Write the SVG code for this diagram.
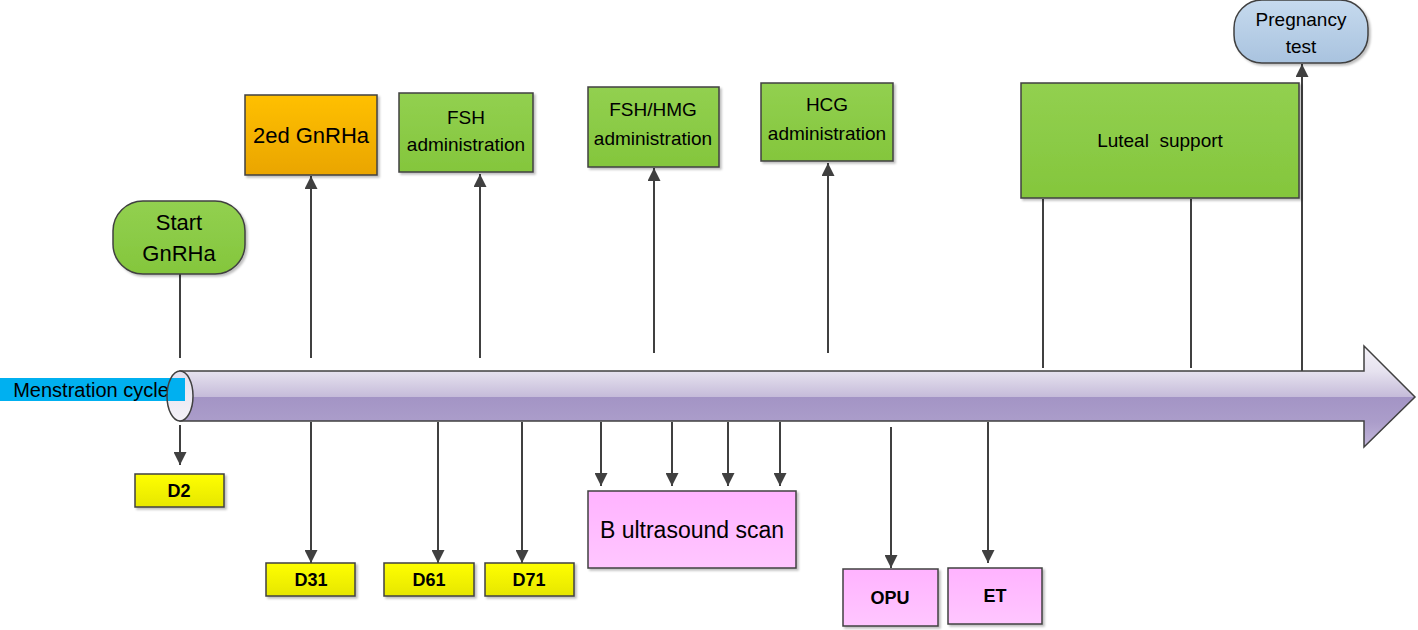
<svg xmlns="http://www.w3.org/2000/svg" width="1418" height="630" viewBox="0 0 1418 630">
<style>
text{font-family:"Liberation Sans",Arial,sans-serif;fill:#000;text-anchor:middle}
.box{stroke:#404040;stroke-width:1.5;filter:url(#sh)}
.green{fill:url(#gGreen)}
.yel{fill:url(#gYel)}
.pink{fill:url(#gPink)}
.lbl{font-weight:bold;font-size:18px}
.conn line{stroke:#404040;stroke-width:2}
.arr{marker-end:url(#ah)}
</style>
<defs>
<filter id="sh" x="-10%" y="-10%" width="130%" height="130%">
<feDropShadow dx="2" dy="2" stdDeviation="1" flood-color="#000" flood-opacity="0.25"/>
</filter>
<marker id="ah" viewBox="0 0 10 10" refX="10" refY="5" markerUnits="userSpaceOnUse" markerWidth="14" markerHeight="13" orient="auto">
<path d="M0,0 L10,5 L0,10 Z" fill="#404040"/>
</marker>
<linearGradient id="gGreen" x1="0" y1="0" x2="0" y2="1">
<stop offset="0" stop-color="#92d050"/><stop offset="1" stop-color="#84c63c"/>
</linearGradient>
<linearGradient id="gOrange" x1="0" y1="0" x2="0" y2="1">
<stop offset="0" stop-color="#ffc000"/><stop offset="1" stop-color="#eaa500"/>
</linearGradient>
<linearGradient id="gYel" x1="0" y1="0" x2="0" y2="1">
<stop offset="0" stop-color="#ffff00"/><stop offset="1" stop-color="#e6e600"/>
</linearGradient>
<linearGradient id="gPink" x1="0" y1="0" x2="0" y2="1">
<stop offset="0" stop-color="#ffb3ff"/><stop offset="1" stop-color="#ffc6ff"/>
</linearGradient>
<linearGradient id="gBlue" x1="0" y1="0" x2="0" y2="1">
<stop offset="0" stop-color="#c6daee"/><stop offset="1" stop-color="#a9c3df"/>
</linearGradient>
<linearGradient id="gBody" gradientUnits="userSpaceOnUse" x1="0" y1="346" x2="0" y2="447">
<stop offset="0" stop-color="#f4f2f8"/>
<stop offset="0.25" stop-color="#e6e2ef"/>
<stop offset="0.5" stop-color="#c6bcda"/>
<stop offset="0.5" stop-color="#a394c5"/>
<stop offset="0.75" stop-color="#ab9dca"/>
<stop offset="1" stop-color="#c2b6da"/>
</linearGradient>
<linearGradient id="gEnd" x1="0" y1="0" x2="0" y2="1">
<stop offset="0" stop-color="#e4e0ee"/><stop offset="1" stop-color="#f4f2f8"/>
</linearGradient>
</defs>

<g id="timeline">
<path d="M180,371 L1364,371 L1364,346 L1415,397 L1364,447 L1364,421 L180,421 Z" fill="url(#gBody)" stroke="#404040" stroke-width="1.5"/>
<ellipse cx="180" cy="396" rx="13" ry="25" fill="url(#gEnd)"/>
</g>

<g id="menstration-cycle">
<rect x="0" y="378" width="185" height="23" fill="#00b0f0"/>
<text x="91" y="397" font-size="20">Menstration cycle</text>
<ellipse cx="180" cy="396" rx="13" ry="25" fill="none" stroke="#404040" stroke-width="1.5"/>
</g>

<g class="conn" id="connectors">
<line x1="180" y1="358" x2="180" y2="274"/>
<line class="arr" x1="311" y1="358" x2="311" y2="176"/>
<line class="arr" x1="480" y1="358" x2="480" y2="174"/>
<line class="arr" x1="654" y1="353" x2="654" y2="168"/>
<line class="arr" x1="828" y1="353" x2="828" y2="163"/>
<line x1="1043" y1="199" x2="1043" y2="368"/>
<line x1="1191" y1="199" x2="1191" y2="368"/>
<line class="arr" x1="1302" y1="371" x2="1302" y2="64"/>
<line class="arr" x1="180" y1="425" x2="180" y2="465"/>
<line class="arr" x1="311" y1="422" x2="311" y2="563"/>
<line class="arr" x1="438" y1="422" x2="438" y2="563"/>
<line class="arr" x1="522" y1="422" x2="522" y2="563"/>
<line class="arr" x1="601" y1="422" x2="601" y2="486"/>
<line class="arr" x1="672" y1="422" x2="672" y2="486"/>
<line class="arr" x1="728" y1="422" x2="728" y2="486"/>
<line class="arr" x1="780" y1="422" x2="780" y2="486"/>
<line class="arr" x1="891" y1="427" x2="891" y2="568"/>
<line class="arr" x1="988" y1="422" x2="988" y2="563"/>
</g>

<g id="start-gnrha">
<rect class="box green" x="113" y="201" width="132" height="73" rx="30" ry="30"/>
<text x="179" y="230" font-size="22">Start</text>
<text x="179" y="261" font-size="22">GnRHa</text>
</g>

<g id="second-gnrha">
<rect class="box" x="245" y="95" width="132" height="80" fill="url(#gOrange)"/>
<text x="311" y="143" font-size="22">2ed GnRHa</text>
</g>

<g id="fsh">
<rect class="box green" x="399" y="93" width="134" height="79"/>
<text x="466" y="124" font-size="19">FSH</text>
<text x="466" y="151" font-size="19">administration</text>
</g>

<g id="fsh-hmg">
<rect class="box green" x="588" y="87" width="131" height="80"/>
<text x="653" y="116" font-size="19">FSH/HMG</text>
<text x="653" y="145" font-size="19">administration</text>
</g>

<g id="hcg">
<rect class="box green" x="761" y="83" width="132" height="78"/>
<text x="827" y="111" font-size="19">HCG</text>
<text x="827" y="140" font-size="19">administration</text>
</g>

<g id="luteal-support">
<rect class="box green" x="1021" y="83" width="278" height="115"/>
<text x="1160" y="147" font-size="19" xml:space="preserve">Luteal  support</text>
</g>

<g id="pregnancy-test">
<rect class="box" x="1234" y="0" width="134" height="63" rx="28" ry="28" fill="url(#gBlue)"/>
<text x="1301" y="26" font-size="19">Pregnancy</text>
<text x="1301" y="53" font-size="19">test</text>
</g>

<g id="d2">
<rect class="box yel" x="135" y="474" width="89" height="33"/>
<text class="lbl" x="179" y="497">D2</text>
</g>

<g id="d31">
<rect class="box yel" x="266" y="563" width="89" height="33"/>
<text class="lbl" x="311" y="586">D31</text>
</g>

<g id="d61">
<rect class="box yel" x="384" y="563" width="90" height="33"/>
<text class="lbl" x="429" y="586">D61</text>
</g>

<g id="d71">
<rect class="box yel" x="485" y="563" width="89" height="33"/>
<text class="lbl" x="529" y="586">D71</text>
</g>

<g id="b-ultrasound">
<rect class="box pink" x="588" y="491" width="208" height="77"/>
<text x="692" y="538" font-size="23">B ultrasound scan</text>
</g>

<g id="opu">
<rect class="box pink" x="843" y="569" width="95" height="57"/>
<text class="lbl" x="890" y="604">OPU</text>
</g>

<g id="et">
<rect class="box pink" x="948" y="568" width="94" height="56"/>
<text class="lbl" x="995" y="602">ET</text>
</g>
</svg>
